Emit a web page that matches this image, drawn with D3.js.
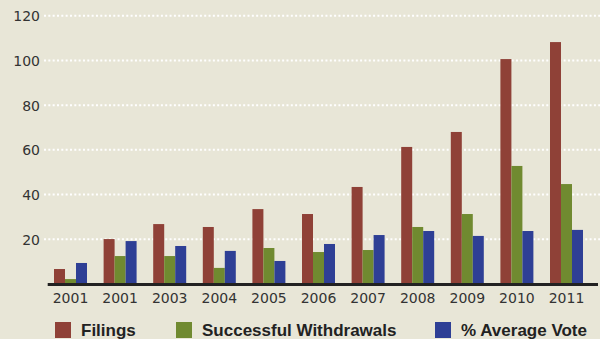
<!DOCTYPE html>
<html>
<head>
<meta charset="utf-8">
<script src="https://cdn.jsdelivr.net/npm/d3@7"></script>
<style>
  html, body { margin: 0; padding: 0; background: #E8E6D7; }
  svg { display: block; }
</style>
</head>
<body>
<svg id="chart" width="600" height="339"></svg>
<script>
const years = ["2001", "2001", "2003", "2004", "2005", "2006", "2007", "2008", "2009", "2010", "2011"];
const filings = [6.7, 20.1, 26.8, 25.5, 33.5, 31.3, 43.4, 61.3, 68, 100.6, 108.2];
const withdrawals = [2.2, 12.5, 12.5, 7.2, 16.1, 14.3, 15.2, 25.5, 31.3, 52.8, 44.7];
const avgVote = [9.4, 19.2, 17.0, 14.8, 10.3, 17.9, 21.9, 23.7, 21.5, 23.7, 24.2];
const seriesNames = ["Filings", "Successful Withdrawals", "% Average Vote"];
const colors = ["#8F4137", "#708A30", "#2E3F95"];
const yTicks = [20, 40, 60, 80, 100, 120];

const seriesData = [filings, withdrawals, avgVote];
const svg = d3.select("#chart");

svg.append("rect").attr("width", 600).attr("height", 339).attr("fill", "#E8E6D7");

const y = d3.scaleLinear().domain([0, 120]).range([284, 15.7]);
const x = d3.scaleBand().domain(d3.range(years.length)).range([45.7, 591.3])
  .paddingInner(0.335).paddingOuter(0.1675);
const xs = d3.scaleBand().domain(d3.range(seriesNames.length)).range([0, x.bandwidth()]);

// gridlines
svg.append("g").selectAll("line").data(yTicks).join("line")
  .attr("x1", 44).attr("x2", 600)
  .attr("y1", d => y(d)).attr("y2", d => y(d))
  .attr("stroke", "#ffffff").attr("stroke-width", 2)
  .attr("stroke-dasharray", "2,2.33");

// y tick labels
const yAxis = d3.axisLeft(y).tickValues(yTicks).tickSize(0).tickPadding(0);
const gy = svg.append("g").attr("transform", "translate(40,0)").call(yAxis);
gy.select(".domain").remove();
gy.selectAll("text")
  .attr("font-family", "DejaVu Sans").attr("font-size", 14).attr("fill", "#333")
  .attr("dy", "0.36em");

// bars
const groups = svg.append("g").selectAll("g").data(years).join("g")
  .attr("transform", (d, i) => `translate(${x(i)},0)`);
groups.selectAll("rect")
  .data((d, i) => seriesData.map((s, k) => ({ k, v: s[i] })))
  .join("rect")
  .attr("x", d => xs(d.k))
  .attr("width", xs.bandwidth())
  .attr("y", d => y(d.v))
  .attr("height", d => y(0) - y(d.v))
  .attr("fill", d => colors[d.k]);

// x axis line and labels
svg.append("line").attr("x1", 47.7).attr("x2", 598).attr("y1", 284.5).attr("y2", 284.5)
  .attr("stroke", "#222").attr("stroke-width", 3);
svg.append("g").selectAll("text").data(years).join("text")
  .attr("x", (d, i) => x(i) + x.bandwidth() / 2)
  .attr("y", 302.5)
  .attr("text-anchor", "middle")
  .attr("font-family", "DejaVu Sans").attr("font-size", 14).attr("fill", "#333")
  .text(d => d);

// legend
const legendX = [55, 176, 435];
const lg = svg.append("g").selectAll("g").data(seriesNames).join("g")
  .attr("transform", (d, i) => `translate(${legendX[i]},322)`);
lg.append("rect").attr("width", 16).attr("height", 16).attr("fill", (d, i) => colors[i]);
lg.append("text").attr("x", 26).attr("y", 14)
  .attr("font-family", "Liberation Sans, Arial, sans-serif").attr("font-weight", "bold")
  .attr("font-size", 17).attr("fill", "#222")
  .text(d => d);
</script>
</body>
</html>
